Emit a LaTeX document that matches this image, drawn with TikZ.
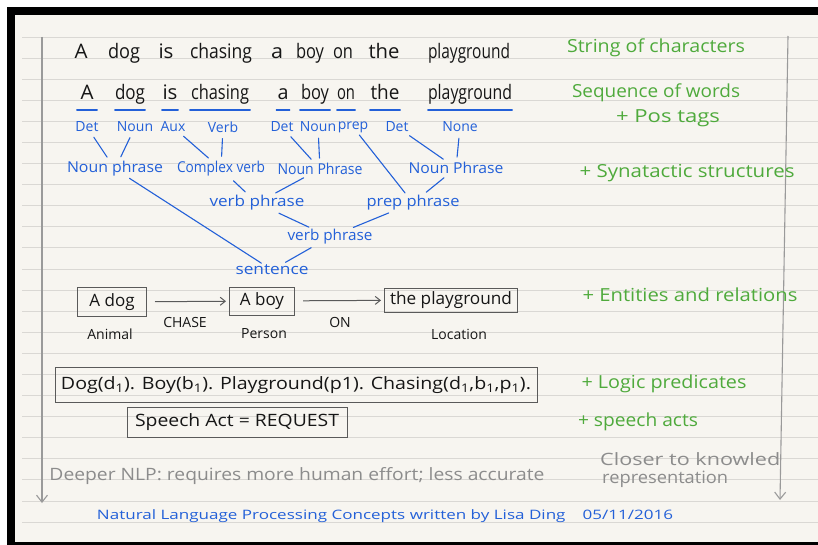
\documentclass[tikz,border=0pt]{standalone}
\usepackage{fontspec}
\setmainfont{Open Sans}
\usetikzlibrary{arrows.meta,calc}
\definecolor{paper}{HTML}{F7F5F0}
\definecolor{rulec}{HTML}{DAD8D4}
\definecolor{ink}{HTML}{161616}
\definecolor{bink}{HTML}{2360D8}
\definecolor{gink}{HTML}{4FAA3C}
\definecolor{gtxt}{HTML}{8C8C8C}
\definecolor{boxg}{HTML}{5A5A5A}
\definecolor{margc}{HTML}{9A9A9A}
\newcommand\fw[2]{\resizebox{#1pt}{\height}{#2}}
\begin{document}
\begin{tikzpicture}[x=1pt,y=-1pt,
  blk/.style={text=ink,inner sep=0pt,font=\fontsize{20}{22}\selectfont,anchor=base},
  wrd/.style={blk},
  ul/.style={draw=bink,line width=1.2pt,line cap=round},
  tag/.style={text=bink,inner sep=0pt,font=\fontsize{14}{16}\selectfont},
  phr/.style={text=bink,inner sep=0pt,font=\fontsize{15}{17}\selectfont},
  br/.style={draw=bink,line width=1.1pt,line cap=round,shorten >=3pt,shorten <=3pt},
  bs/.style={br,shorten >=5pt,shorten <=6pt},
  grn/.style={text=gink,inner sep=0pt,font=\fontsize{18}{20}\selectfont},
  gry/.style={text=gtxt,inner sep=0pt,font=\fontsize{17}{19}\selectfont},
  ent/.style={draw=boxg,line width=1pt,text=ink,inner sep=0pt,font=\fontsize{17}{19}\selectfont},
  lab/.style={text=ink,inner sep=0pt,font=\fontsize{14}{16}\selectfont},
  garr/.style={draw=margc,line width=1.1pt,-{Straight Barb[length=7pt,width=11pt]}},
  earr/.style={draw=boxg,line width=1pt,-{Straight Barb[length=5pt,width=8pt]},shorten <=8pt,shorten >=3pt},
  foot/.style={text=bink,inner sep=0pt,font=\fontsize{13}{15}\selectfont}
]
\useasboundingbox (0,0) rectangle (818,545);
\fill[white] (0,0) rectangle (818,545);
\fill[black] (7,7) rectangle (818,545);
\fill[paper] (15,15) rectangle (818,542);
\foreach \k in {0,...,23}{
  \draw[rulec,line width=0.9pt] (22,{37+21.09*\k}) -- (818,{37+21.09*\k});
}
% margin arrows
\coordinate (lt) at (42,37);
\coordinate (lb) at (42,503);
\coordinate (rt) at (788,36);
\coordinate (rb) at (780,500);
\draw[garr] (lt) -- (lb);
\draw[garr] (rt) -- (rb);

% row 1
\node[blk] (r1a) at (81,59) {\fw{13}{A}};
\node[blk] (r1b) at (124,59) {\fw{32}{dog}};
\node[blk] (r1c) at (166,59) {\fw{15}{is}};
\node[blk] (r1d) at (221,59) {\fw{62}{chasing}};
\node[blk] (r1e) at (277,59) {\fw{12}{a}};
\node[blk] (r1f) at (310,59) {\fw{28}{boy}};
\node[blk] (r1g) at (343,59) {\fw{20}{on}};
\node[blk] (r1h) at (384,59) {\fw{31}{the}};
\node[blk] (r1i) at (469,59) {\fw{82}{playground}};

% row 2
\node[wrd,minimum width=20pt] (w1) at (87,100) {\fw{13}{A}};
\node[wrd,minimum width=28pt] (w2) at (130,100) {\fw{30}{dog}};
\node[wrd,minimum width=16pt] (w3) at (170,100) {\fw{15}{is}};
\node[wrd,minimum width=60pt] (w4) at (220,100) {\fw{58}{chasing}};
\node[wrd,minimum width=13pt] (w5) at (283,100) {\fw{11}{a}};
\node[wrd,minimum width=30pt] (w6) at (315,100) {\fw{28}{boy}};
\node[wrd,minimum width=16pt] (w7) at (346,100) {\fw{18}{on}};
\node[wrd,minimum width=30pt] (w8) at (385,100) {\fw{29}{the}};
\node[wrd,minimum width=84pt] (w9) at (470,100) {\fw{84}{playground}};
\foreach \w in {w1,w2,w3,w4,w5,w6,w7,w8,w9}{
  \draw[ul] ([yshift=-10pt]\w.base west) -- ([yshift=-10pt]\w.base east);
}

% POS tags
\node[tag] (t1) at (87,127) {Det};
\node[tag] (t2) at (135,127) {Noun};
\node[tag] (t3) at (173,127) {Aux};
\node[tag] (t4) at (223,127) {Verb};
\node[tag] (t5) at (282,127) {Det};
\node[tag] (t6) at (318,127) {Noun};
\node[tag] (t7) at (353,127) {prep};
\node[tag] (t8) at (397,127) {Det};
\node[tag] (t9) at (460,127) {None};

% phrases
\node[phr] (np1) at (115,169) {\fw{96}{Noun phrase}};
\node[phr] (cv) at (221,169) {\fw{88}{Complex verb}};
\node[phr] (np2) at (320,169) {\fw{85}{Noun Phrase}};
\node[phr] (np3) at (456,168) {\fw{95}{Noun Phrase}};
\node[phr] (vp1) at (257,203) {\fw{95}{verb phrase}};
\node[phr] (pp) at (413,203) {\fw{93}{prep phrase}};
\node[phr] (vp2) at (330,237) {\fw{85}{verb phrase}};
\node[phr] (sent) at (272,270) {\fw{73}{sentence}};

\draw[bs] (t1) -- (np1);
\draw[bs] (t2) -- (np1);
\draw[bs] (t3) -- (cv);
\draw[bs] (t4) -- (cv);
\draw[bs] (t5) -- (np2);
\draw[bs] (t6) -- (np2);
\draw[bs] (t8) -- (np3);
\draw[bs] (t9) -- (np3);
\draw[br] (t7) -- (pp);
\draw[bs] (np3) -- (pp);
\draw[bs] (cv) -- (vp1);
\draw[bs] (np2) -- (vp1);
\draw[bs] (vp1) -- (vp2);
\draw[bs] (pp) -- (vp2);
\draw[br] (np1) -- (sent);
\draw[bs] (vp2) -- (sent);

% entities
\node[ent,minimum width=69pt,minimum height=29pt] (e1) at (112,302) {A dog};
\node[ent,minimum width=65pt,minimum height=28pt] (e2) at (262,301) {A boy};
\node[ent,minimum width=133pt,minimum height=24pt] (e3) at (451,300) {\fw{122}{the playground}};
\draw[earr] (e1) -- (e2);
\draw[earr] (e2) -- (e3);
\node[lab] (l1) at (185,322) {CHASE};
\node[lab] (l2) at (340,322) {ON};
\node[lab] (l3) at (110,334) {Animal};
\node[lab] (l4) at (264,334) {Person};
\node[lab] (l5) at (459,334) {Location};

% logic predicates
\node[ent,minimum width=482pt,minimum height=35pt] (lp) at (296,385)
  {\fw{470}{Dog(d\textsubscript{1}). Boy(b\textsubscript{1}). Playground(p1). Chasing(d\textsubscript{1},b\textsubscript{1},p\textsubscript{1}).}};
\node[ent,minimum width=220pt,minimum height=30pt] (sa) at (237,422)
  {\fw{204}{Speech Act = REQUEST}};

% green annotations
\node[grn] (g1) at (656,48) {\fw{178}{String of characters}};
\node[grn] (g2) at (656,93) {\fw{168}{Sequence of words}};
\node[grn] (g3) at (668,118) {\fw{104}{+ Pos tags}};
\node[grn] (g4) at (687,173) {\fw{215}{+ Synatactic structures}};
\node[grn] (g5) at (690,295) {\fw{215}{+ Entities and relations}};
\node[grn] (g6) at (664,384) {\fw{165}{+ Logic predicates}};
\node[grn] (g7) at (638,422) {\fw{120}{+ speech acts}};

% gray notes
\node[gry] (d1) at (297,476) {\fw{495}{Deeper NLP: requires more human effort; less accurate}};
\node[gry,anchor=west] (c1) at (600,459) {\fw{180}{Closer to knowled}};
\node[gry,anchor=west] (c2) at (602,479) {\fw{126}{representation}};

% footer
\node[foot] (ft) at (385,516) {\fw{576}{Natural Language Processing Concepts written by Lisa Ding\quad 05/11/2016}};
\end{tikzpicture}
\end{document}
